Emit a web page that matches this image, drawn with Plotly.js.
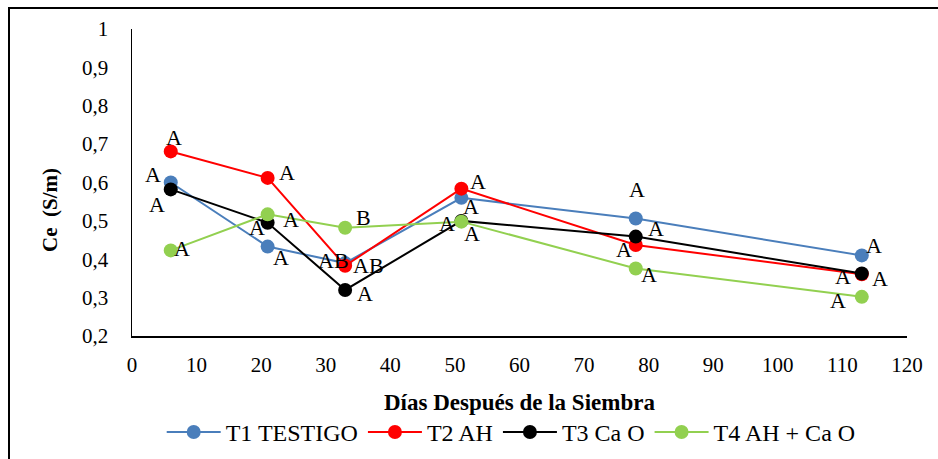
<!DOCTYPE html>
<html>
<head>
<meta charset="utf-8">
<script src="https://cdn.plot.ly/plotly-3.0.1.min.js"></script>
<style>html,body{margin:0;padding:0;background:#fff;}#chart{width:938px;height:459px;}</style>
</head>
<body>
<div id="chart"></div>
<script>
const days = [6, 21, 33, 51, 78, 113];
const seriesNames = ["T1 TESTIGO", "T2 AH", "T3 Ca O", "T4 AH + Ca O"];
const t1Values = [0.60, 0.433, 0.39, 0.56, 0.506, 0.41];
const t2Values = [0.681, 0.612, 0.383, 0.584, 0.437, 0.361];
const t3Values = [0.582, 0.495, 0.32, 0.50, 0.459, 0.363];
const t4Values = [0.423, 0.517, 0.482, 0.498, 0.376, 0.302];
const t1Letters = ["A", "A", "AB", "A", "A", "A"];
const t2Letters = ["A", "A", "AB", "A", "A", "A"];
const t3Letters = ["A", "A", "A", "A", "A", "A"];
const t4Letters = ["A", "A", "B", "A", "A", "A"];
const yTickVals = [0.2, 0.3, 0.4, 0.5, 0.6, 0.7, 0.8, 0.9, 1];
const yTickText = ["0,2", "0,3", "0,4", "0,5", "0,6", "0,7", "0,8", "0,9", "1"];
const xTitle = "Días Después de la Siembra";
const yTitle = "Ce  (S/m)";

const colors = ["#4a7ebb", "#ff0000", "#000000", "#92d050"];
// label offsets from their point, in px [dx, dy(down)]
const labelOffsets = [
  [[-18, -8], [13, 11], [-12, -3], [10, 9], [1, -29], [12, -10]],
  [[3, -14], [19, -5], [23, 0], [17, -7], [-12, 4], [18, 4]],
  [[-14, 15], [-11, 5], [20, 4], [-14, 3], [20, -8], [-19, 3]],
  [[11, -2], [23, 5], [18, -10], [11, 12], [13, 6], [-24, 4]]
];
const values = [t1Values, t2Values, t3Values, t4Values];
const letters = [t1Letters, t2Letters, t3Letters, t4Letters];
const FONT = "Liberation Serif";

const traces = values.map((v, i) => ({
  x: days, y: v, name: seriesNames[i], mode: "lines+markers",
  line: {color: colors[i], width: 2},
  marker: {color: colors[i], size: 14},
  cliponaxis: false
}));

const annotations = [];
values.forEach((v, i) => {
  v.forEach((val, j) => {
    annotations.push({
      x: days[j], y: val, xref: "x", yref: "y", text: letters[i][j], showarrow: false,
      xanchor: "center", yanchor: "middle",
      xshift: labelOffsets[i][j][0], yshift: -labelOffsets[i][j][1],
      font: {family: FONT, size: 22, color: "#000"}
    });
  });
});
annotations.push(
  {text: "<b>" + xTitle + "</b>", xref: "paper", yref: "paper",
   x: 0.5, y: (336 - 402) / 307, xanchor: "center", yanchor: "middle", showarrow: false,
   font: {family: FONT, size: 23}},
  {text: "<b>" + yTitle + "</b>", xref: "paper", yref: "paper", textangle: -90,
   x: (50 - 132) / 775, y: (336 - 210) / 307, xanchor: "center", yanchor: "middle", showarrow: false,
   font: {family: FONT, size: 21}}
);

const layout = {
  width: 938, height: 459,
  margin: {l: 132, r: 31, t: 29, b: 123, autoexpand: false},
  paper_bgcolor: "#fff", plot_bgcolor: "#fff",
  font: {family: FONT, size: 20, color: "#000"},
  showlegend: true,
  legend: {orientation: "h", xref: "container", yref: "container",
           x: 0.545, xanchor: "center", y: 0.058, yanchor: "middle",
           font: {family: FONT, size: 24, color: "#000"}, itemwidth: 54, traceorder: "normal"},
  xaxis: {range: [0, 120], dtick: 10, tick0: 0, showgrid: false, zeroline: false,
          showline: true, linecolor: "#000", linewidth: 1.5, ticks: "",
          ticklabelstandoff: 9, tickfont: {family: FONT, size: 21}},
  yaxis: {range: [0.2, 1], tickvals: yTickVals, ticktext: yTickText, showgrid: false, zeroline: false,
          showline: true, linecolor: "#000", linewidth: 1.5, ticks: "",
          ticklabelstandoff: 18, tickfont: {family: FONT, size: 21}},
  annotations: annotations,
  shapes: [{type: "rect", xref: "paper", yref: "paper",
            x0: (9 - 132) / 775, x1: (945 - 132) / 775,
            y0: (336 - 470) / 307, y1: (336 - 8) / 307,
            line: {color: "#000", width: 2}}]
};

Plotly.newPlot("chart", traces, layout, {displayModeBar: false, staticPlot: true});
</script>
</body>
</html>
